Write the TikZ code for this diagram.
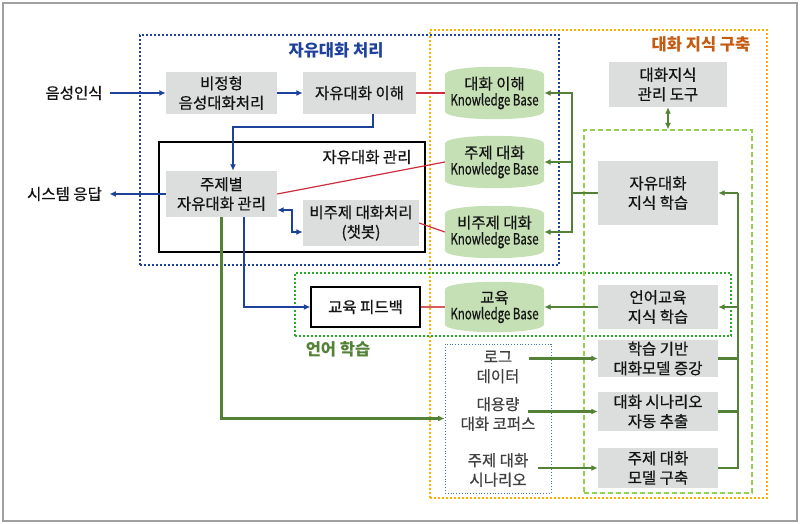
\documentclass[tikz,border=0pt]{standalone}
\usepackage{fontspec}
\usepackage{graphicx}
\setmainfont{Noto Sans CJK KR}
\usetikzlibrary{calc,arrows.meta,backgrounds}
\definecolor{boxgray}{RGB}{220,221,221}
\definecolor{kbgreen}{RGB}{197,224,180}
\definecolor{arrblue}{RGB}{30,65,155}
\definecolor{arrgreen}{RGB}{83,129,53}
\definecolor{lred}{RGB}{205,45,60}
\definecolor{lred2}{RGB}{215,90,95}
\definecolor{grpgreen}{RGB}{40,170,40}
\definecolor{dashgreen}{RGB}{146,208,80}
\definecolor{grporange}{RGB}{255,176,0}
\definecolor{titleorange}{RGB}{197,90,17}
\definecolor{srcblue}{RGB}{68,114,196}
\definecolor{framegray}{RGB}{160,160,160}
\definecolor{txt}{RGB}{20,20,20}
\definecolor{srctxt}{RGB}{65,65,65}
\newcommand\boxfont{\fontsize{15.5}{19.5}\selectfont\addfontfeature{FakeBold=0.6}}
\newcommand\labfont{\fontsize{15.5}{19.5}\selectfont\addfontfeature{FakeBold=0.6}}
\newcommand\ttlfont{\fontsize{16.5}{19}\selectfont\bfseries}
\newcommand\kbtxt[1]{#1\\[-3.5pt]\scalebox{0.74}[1]{Knowledge Base}}
\begin{document}
\begin{tikzpicture}[x=1pt,y=-1pt,
  gbox/.style={fill=boxgray, inner sep=0pt, align=center, font=\boxfont, text=txt},
  kb/.style={inner sep=0pt, minimum width=99pt, minimum height=52pt, align=center, font=\boxfont, text=txt},
  srct/.style={align=center, font=\boxfont, text=srctxt},
  barrow/.style={draw=arrblue, line width=2pt, -{Latex[length=6.5pt,width=6pt]}},
  garrow/.style={draw=arrgreen, line width=2.2pt, -{Latex[length=6.5pt,width=6pt]}},
  gline/.style={draw=arrgreen, line width=2.2pt},
  rline/.style={draw=lred, line width=1.2pt},
  grpdot/.style={line width=2.2pt, dash pattern=on 2pt off 2pt, inner sep=0pt},
]
\useasboundingbox (0,0) rectangle (800,524);
\draw[framegray, line width=1.5pt] (3,3) rectangle (797,521);

% group frames
\node[grpdot, draw=grporange, minimum width=337pt, minimum height=468pt] (grpO) at (598.5,264) {};
\node[grpdot, draw=arrblue, minimum width=419pt, minimum height=230pt] (grpA) at (349.5,150) {};
\node[grpdot, draw=grpgreen, minimum width=436pt, minimum height=63pt] (grpG) at (513,304.5) {};
\node[draw=dashgreen, line width=1.1pt, dash pattern=on 5pt off 3pt, inner sep=0pt, minimum width=168pt, minimum height=363pt] (dl) at (668,311.5) {};
\node[draw=srcblue, line width=0.8pt, dotted, inner sep=0pt, minimum width=106pt, minimum height=149pt] (src) at (498,418.5) {};
\node[draw=black, line width=1.3pt, inner sep=0pt, minimum width=266pt, minimum height=110pt] (mg) at (292,197) {};

% titles
\node[font=\ttlfont, text=arrblue] (tA) at (336,50) {자유대화 처리};
\node[font=\ttlfont, text=titleorange] (tO) at (701,44) {대화 지식 구축};
\node[font=\ttlfont, text=arrgreen] (tG) at (338,349) {언어 학습};
\node[font=\labfont, text=txt] (tM) at (367,157) {자유대화 관리};

% outside labels
\node[font=\labfont, text=txt] (in) at (74,93) {음성인식};
\node[font=\labfont, text=txt] (sys) at (64.5,194) {시스템 응답};

% boxes
\node[gbox, minimum width=111pt, minimum height=42pt] (b1) at (221.5,93) {비정형\\음성대화처리};
\node[gbox, minimum width=113pt, minimum height=42pt] (b2) at (359.5,93) {자유대화 이해};
\node[gbox, minimum width=111pt, minimum height=46pt] (b3) at (221.5,194) {주제별\\자유대화 관리};
\node[gbox, minimum width=116pt, minimum height=46pt] (b4) at (361,223) {비주제 대화처리\\(챗봇)};
\node[draw=black, line width=1.3pt, fill=white, inner sep=0pt, minimum width=109pt, minimum height=40pt, font=\boxfont, text=txt] (fb) at (365.5,307) {교육 피드백};

\node[kb] (k1) at (494.5,93) {\kbtxt{대화 이해}};
\node[kb] (k2) at (494.5,162) {\kbtxt{주제 대화}};
\node[kb] (k3) at (494.5,232) {\kbtxt{비주제 대화}};
\node[kb, minimum height=50pt] (k4) at (494.5,307) {\kbtxt{교육}};

\node[gbox, minimum width=118pt, minimum height=45pt] (t1) at (668,84.5) {대화지식\\관리 도구};
\node[gbox, minimum width=120pt, minimum height=64pt] (t2) at (658,193) {자유대화\\지식 학습};
\node[gbox, minimum width=120pt, minimum height=44pt] (t3) at (658,307) {언어교육\\지식 학습};
\node[gbox, minimum width=120pt, minimum height=37pt] (t4) at (658,358.5) {학습 기반\\대화모델 증강};
\node[gbox, minimum width=120pt, minimum height=39pt] (t5) at (658,411.5) {대화 시나리오\\자동 추출};
\node[gbox, minimum width=120pt, minimum height=40pt] (t6) at (658,468) {주제 대화\\모델 구축};

\node[srct] (s1t) at (498,367) {로그\\데이터};
\node[srct] (s2t) at (498,414) {대용량\\대화 코퍼스};
\node[srct] (s3t) at (498,470) {주제 대화\\시나리오};

% KB cylinder shapes
\begin{scope}[on background layer]
\foreach \k in {k1,k2,k3,k4}{
  \fill[kbgreen] ($(\k.north west)+(0,8)$) .. controls ($(\k.north west)+(0,-2.67)$) and ($(\k.north east)+(0,-2.67)$) .. ($(\k.north east)+(0,8)$)
    -- ($(\k.south east)+(0,-8)$) .. controls ($(\k.south east)+(0,2.67)$) and ($(\k.south west)+(0,2.67)$) .. ($(\k.south west)+(0,-8)$) -- cycle;
}
\end{scope}

% blue connectors
\draw[barrow, shorten <=4pt] (in.east) -- (b1.west);
\draw[barrow] (b1.east) -- (b2.west);
\draw[barrow] ($(b2.south)+(13.5,0)$) -- ++(0,13) -| ($(b3.north)+(11.5,0)$);
\draw[barrow, shorten >=4pt] (b3.west) -- (sys.east);
\draw[barrow, {Latex[length=6.5pt,width=6pt]}-{Latex[length=6.5pt,width=6pt]}] ($(b3.east)+(0,16)$) -- ++(15,0) |- ($(b4.west)+(0,9)$);
\draw[barrow] ($(b3.south)+(22.5,0)$) |- (fb.west);

% green from 주제별 to sources
\draw[garrow] (b3.south) |- (src.west);

% red links
\draw[rline] (b2.east) -- (k1.west);
\draw[rline] (b3.east) -- (k2.west);
\draw[rline] (b4.east) -- (k3.west);
\draw[draw=lred2, line width=1.2pt] (fb.east) -- (k4.west);

% green knowledge connectors
\coordinate (j1) at (572,193);
\draw[gline] (t2.west) -- (j1);
\draw[garrow] (j1) |- (k1.east);
\draw[garrow] (j1) |- (k2.east);
\draw[garrow] (j1) |- (k3.east);
\draw[garrow] (t3.west) -- (k4.east);
\draw[garrow, {Latex[length=6.5pt,width=6pt]}-{Latex[length=6.5pt,width=6pt]}, line width=2pt] (t1.south) -- (dl.north);

\coordinate (r1) at (738,193);
\coordinate (r2) at (738,307);
\coordinate (r3) at (738,358.5);
\coordinate (r4) at (738,411.5);
\coordinate (r5) at (738,468);
\draw[gline] (t6.east) -- (r5) -- (r1);
\draw[gline] (t4.east) -- (r3);
\draw[gline] (t5.east) -- (r4);
\draw[garrow] (r1) -- (t2.east);
\draw[garrow] (r2) -- (t3.east);

\coordinate (s1) at (529,358.5);
\coordinate (s2) at (528,411.5);
\coordinate (s3) at (538,468);
\draw[garrow] (s1) -- (t4.west);
\draw[garrow] (s2) -- (t5.west);
\draw[garrow] (s3) -- (t6.west);
\end{tikzpicture}
\end{document}
